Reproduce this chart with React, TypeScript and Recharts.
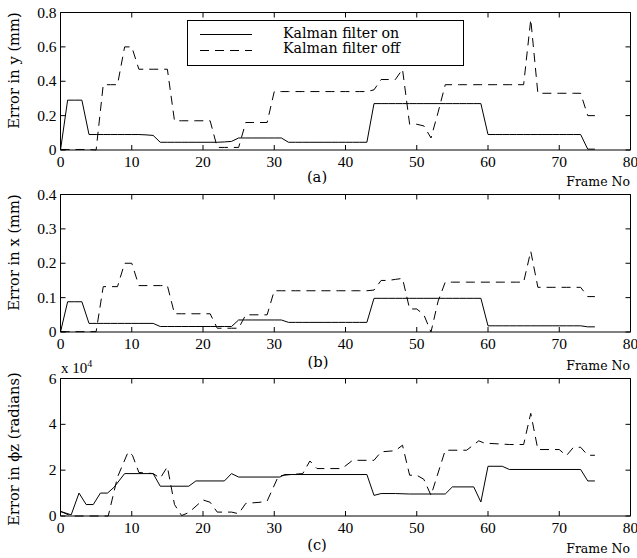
import React from "react";
import { LineChart, Line, XAxis, YAxis, ReferenceLine, Legend } from "recharts";

// frame numbers for panels (a) and (b)
const frames = [
  0, 1, 2, 3, 4, 5, 6, 7, 8, 9, 10, 11, 12, 13, 14, 15, 16, 17, 18, 19,
  20, 21, 22, 23, 24, 25, 26, 27, 28, 29, 30, 31, 32, 33, 34, 35, 36, 37, 38, 39,
  40, 41, 42, 43, 44, 45, 46, 47, 48, 49, 50, 51, 52, 53, 54, 55, 56, 57, 58, 59,
  60, 61, 62, 63, 64, 65, 66, 67, 68, 69, 70, 71, 72, 73, 74, 75,
];

// (a) error in y (mm)
const yOn = [
  0, 0.29, 0.29, 0.29, 0.09, 0.09, 0.09, 0.09, 0.09, 0.09,
  0.09, 0.09, 0.088, 0.085, 0.045, 0.045, 0.045, 0.045, 0.045, 0.045,
  0.045, 0.045, 0.045, 0.047, 0.05, 0.07, 0.07, 0.07, 0.07, 0.07,
  0.07, 0.07, 0.045, 0.045, 0.045, 0.045, 0.045, 0.045, 0.045, 0.045,
  0.045, 0.045, 0.045, 0.045, 0.27, 0.27, 0.27, 0.27, 0.27, 0.27,
  0.27, 0.27, 0.27, 0.27, 0.27, 0.27, 0.27, 0.27, 0.27, 0.27,
  0.09, 0.09, 0.09, 0.09, 0.09, 0.09, 0.09, 0.09, 0.09, 0.09,
  0.09, 0.09, 0.09, 0.09, 0.005, 0.005,
];
const yOff = [
  0.003, 0.003, 0.003, 0.003, 0.003, 0, 0.38, 0.38, 0.38, 0.6,
  0.6, 0.47, 0.47, 0.47, 0.47, 0.47, 0.17, 0.17, 0.17, 0.17,
  0.17, 0.17, 0.015, 0.015, 0.015, 0.015, 0.16, 0.16, 0.16, 0.16,
  0.34, 0.34, 0.34, 0.34, 0.34, 0.34, 0.34, 0.34, 0.34, 0.34,
  0.34, 0.34, 0.34, 0.34, 0.35, 0.41, 0.41, 0.41, 0.47, 0.15,
  0.15, 0.14, 0.07, 0.22, 0.38, 0.38, 0.38, 0.38, 0.38, 0.38,
  0.38, 0.38, 0.38, 0.38, 0.38, 0.38, 0.76, 0.33, 0.33, 0.33,
  0.33, 0.33, 0.33, 0.33, 0.2, 0.2,
];

// (b) error in x (mm)
const xOn = [
  0, 0.088, 0.088, 0.088, 0.025, 0.025, 0.025, 0.025, 0.025, 0.025,
  0.025, 0.025, 0.025, 0.025, 0.016, 0.016, 0.016, 0.016, 0.016, 0.016,
  0.016, 0.016, 0.016, 0.016, 0.016, 0.035, 0.035, 0.035, 0.035, 0.035,
  0.035, 0.035, 0.028, 0.028, 0.028, 0.028, 0.028, 0.028, 0.028, 0.028,
  0.028, 0.028, 0.028, 0.028, 0.098, 0.098, 0.098, 0.098, 0.098, 0.098,
  0.098, 0.098, 0.098, 0.098, 0.098, 0.098, 0.098, 0.098, 0.098, 0.098,
  0.018, 0.018, 0.018, 0.018, 0.018, 0.018, 0.018, 0.018, 0.018, 0.018,
  0.018, 0.018, 0.018, 0.018, 0.015, 0.015,
];
const xOff = [
  0.001, 0.001, 0.001, 0.001, 0.001, 0.001, 0.132, 0.132, 0.132, 0.2,
  0.2, 0.135, 0.135, 0.135, 0.135, 0.135, 0.053, 0.053, 0.053, 0.053,
  0.053, 0.053, 0.011, 0.011, 0.011, 0.011, 0.05, 0.05, 0.05, 0.05,
  0.12, 0.12, 0.12, 0.12, 0.12, 0.12, 0.12, 0.12, 0.12, 0.12,
  0.12, 0.12, 0.12, 0.12, 0.122, 0.15, 0.15, 0.153, 0.156, 0.067,
  0.067, 0.05, 0, 0.09, 0.145, 0.145, 0.145, 0.145, 0.145, 0.145,
  0.145, 0.145, 0.145, 0.145, 0.145, 0.145, 0.235, 0.13, 0.13, 0.13,
  0.13, 0.13, 0.13, 0.13, 0.103, 0.103,
];

// (c) error in phi z (x 10^4 radians), sampled at uneven frames
const phiOnFrames = [
  0, 1.5, 2.6, 3.6, 4.6, 5.6, 6.6, 7.5, 9, 13, 14, 18, 19, 23, 24, 25, 30.8,
  31.5, 43, 44, 45, 47, 49, 54, 55, 58, 59, 60, 62, 63, 73, 74, 75,
];
const phiOnValues = [
  0.2, 0.05, 1.0, 0.5, 0.5, 1.0, 1.0, 1.25, 1.85, 1.85, 1.3, 1.3, 1.53, 1.53,
  1.85, 1.7, 1.7, 1.81, 1.81, 0.9, 0.98, 0.98, 0.96, 0.96, 1.27, 1.27, 0.61,
  2.17, 2.17, 2.03, 2.03, 1.53, 1.53,
];
const phiOffFrames = [
  0, 1.5, 6.7, 8, 9.5, 10.1, 11, 13, 14, 15, 16, 17, 18, 20, 21, 22, 24, 25,
  26, 28, 29, 30.6, 32, 34, 35, 36, 39.5, 41, 44, 45, 47, 48, 49, 50, 51, 52,
  54, 57, 58.7, 59.5, 63, 65, 66, 67, 70, 71, 72, 73, 74, 75,
];
const phiOffValues = [
  0.2, 0, 0, 1.7, 2.8, 2.65, 1.9, 1.85, 1.65, 2.15, 0.5, 0.02, 0.15, 0.7, 0.6,
  0.17, 0.17, 0.1, 0.55, 0.6, 0.65, 1.75, 1.8, 1.85, 2.4, 2.07, 2.07, 2.43,
  2.43, 2.8, 2.85, 3.09, 1.78, 1.78, 1.6, 0.9, 2.87, 2.87, 3.28, 3.18, 3.12,
  3.12, 4.48, 2.9, 2.9, 2.63, 3.0, 3.0, 2.65, 2.65,
];

const seriesNames = ["Kalman filter on", "Kalman filter off"];
const xTicks = [0, 10, 20, 30, 40, 50, 60, 70, 80];
const yTicksA = [0, 0.2, 0.4, 0.6, 0.8];
const yTicksB = [0, 0.1, 0.2, 0.3, 0.4];
const yTicksC = [0, 2, 4, 6];

const toRows = (fs: number[], vs: number[]) => fs.map((f, i) => ({ f, v: vs[i] }));

const W = 637;
const CHART_H = 180;
const PLOT_TOP = 12.5;
const PLOT_H = 137.5;
const AXIS_W = 60.5;
const RIGHT = 6.5;
const PLOT_W = W - AXIS_W - RIGHT;
const DASH = "9 6";

const numFont = "'Liberation Serif', serif";
const txtFont = "'DejaVu Serif', serif";

const XTick = (p: any) => {
  const { x, y, payload } = p;
  return (
    <g>
      <line x1={x} x2={x} y1={y} y2={y - 5} stroke="#000" />
      <line x1={x} x2={x} y1={y - PLOT_H} y2={y - PLOT_H + 5} stroke="#000" />
      <text x={x} y={y + 17} textAnchor="middle" fontFamily={numFont} fontSize={15.5} fill="#000">
        {payload.value}
      </text>
    </g>
  );
};

const YTick = (p: any) => {
  const { x, y, payload } = p;
  return (
    <g>
      <line x1={x} x2={x + 5} y1={y} y2={y} stroke="#000" />
      <line x1={x + PLOT_W} x2={x + PLOT_W - 5} y1={y} y2={y} stroke="#000" />
      <text x={x - 4} y={y + 5} textAnchor="end" fontFamily={numFont} fontSize={15.5} fill="#000">
        {payload.value}
      </text>
    </g>
  );
};

// legend keeps the plotting order (on, off) rather than the library's sorted payload
const LegendBox = () => (
  <svg width={277} height={46} style={{ display: "block" }}>
    <rect x={0.5} y={0.5} width={276} height={45} fill="#fff" stroke="#000" />
    {seriesNames.map((name, i) => (
      <g key={name}>
        <line
          x1={13}
          x2={65}
          y1={14.5 + i * 16}
          y2={14.5 + i * 16}
          stroke="#000"
          strokeDasharray={i === 1 ? DASH : undefined}
        />
        <text x={96} y={18 + i * 15} fontFamily={txtFont} fontSize={14.2} fill="#000">
          {name}
        </text>
      </g>
    ))}
  </svg>
);

type PanelProps = {
  top: number;
  on: { f: number; v: number }[];
  off: { f: number; v: number }[];
  yMax: number;
  yTicks: number[];
  legend?: boolean;
};

const Panel = ({ top, on, off, yMax, yTicks, legend }: PanelProps) => (
  <div style={{ position: "absolute", left: 0, top }}>
    <LineChart width={W} height={CHART_H} margin={{ top: PLOT_TOP, right: RIGHT, left: 0, bottom: 0 }}>
      <XAxis
        dataKey="f"
        type="number"
        domain={[0, 80]}
        ticks={xTicks}
        interval={0}
        height={CHART_H - PLOT_TOP - PLOT_H}
        tickLine={false}
        tickSize={0}
        tickMargin={0}
        axisLine={{ stroke: "#000" }}
        tick={(p: any) => <XTick {...p} />}
      />
      <YAxis
        type="number"
        domain={[0, yMax]}
        ticks={yTicks}
        interval={0}
        width={AXIS_W}
        tickLine={false}
        tickSize={0}
        tickMargin={0}
        axisLine={{ stroke: "#000" }}
        tick={(p: any) => <YTick {...p} />}
      />
      <ReferenceLine y={yMax} stroke="#000" ifOverflow="visible" />
      <ReferenceLine x={80} stroke="#000" ifOverflow="visible" />
      <Line
        data={on}
        dataKey="v"
        name={seriesNames[0]}
        type="linear"
        stroke="#000"
        strokeWidth={1}
        dot={false}
        activeDot={false}
        isAnimationActive={false}
      />
      <Line
        data={off}
        dataKey="v"
        name={seriesNames[1]}
        type="linear"
        stroke="#000"
        strokeWidth={1}
        strokeDasharray={DASH}
        dot={false}
        activeDot={false}
        isAnimationActive={false}
      />
      {legend && (
        <Legend
          layout="horizontal"
          verticalAlign="middle"
          align="center"
          content={() => <LegendBox />}
          wrapperStyle={{ left: 187, top: 20, width: 277, height: 46, bottom: "auto" }}
        />
      )}
    </LineChart>
  </div>
);

export default function App() {
  return (
    <div style={{ position: "absolute", left: 0, top: 0, width: W, height: 558, background: "#fff" }}>
      <Panel top={0} on={toRows(frames, yOn)} off={toRows(frames, yOff)} yMax={0.8} yTicks={yTicksA} legend />
      <Panel top={182} on={toRows(frames, xOn)} off={toRows(frames, xOff)} yMax={0.4} yTicks={yTicksB} />
      <Panel
        top={366}
        on={toRows(phiOnFrames, phiOnValues)}
        off={toRows(phiOffFrames, phiOffValues)}
        yMax={6}
        yTicks={yTicksC}
      />
      <svg
        width={W}
        height={558}
        style={{ position: "absolute", left: 0, top: 0, pointerEvents: "none" }}
      >
        <g fontFamily={txtFont} fill="#000">
          <text transform="translate(19,70.5) rotate(-90)" textAnchor="middle" fontSize={14.7}>
            Error in y (mm)
          </text>
          <text transform="translate(19,252.5) rotate(-90)" textAnchor="middle" fontSize={14.7}>
            Error in x (mm)
          </text>
          <text transform="translate(19,449) rotate(-90)" textAnchor="middle" fontSize={14.7}>
            Error in ϕz (radians)
          </text>
          <text x={317} y={182} textAnchor="middle" fontSize={14.7}>(a)</text>
          <text x={318} y={366.5} textAnchor="middle" fontSize={14.7}>(b)</text>
          <text x={317} y={549.5} textAnchor="middle" fontSize={14.7}>(c)</text>
          <text x={630} y={185.5} textAnchor="end" fontSize={12.5}>Frame No</text>
          <text x={630} y={370} textAnchor="end" fontSize={12.5}>Frame No</text>
          <text x={630} y={553} textAnchor="end" fontSize={12.5}>Frame No</text>
        </g>
        <text x={61} y={373} fontFamily={numFont} fontSize={15} fill="#000">
          x 10
          <tspan dy={-6} fontSize={10}>4</tspan>
        </text>
      </svg>
    </div>
  );
}
